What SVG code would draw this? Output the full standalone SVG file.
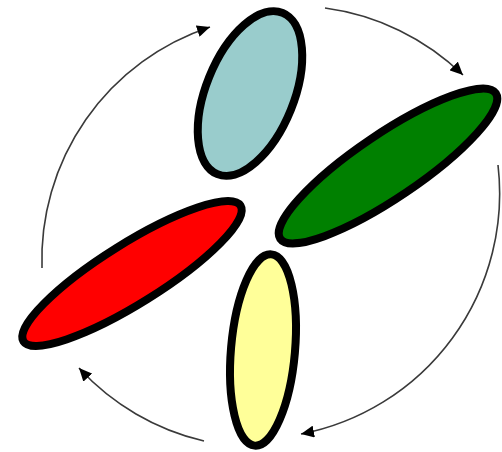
<svg xmlns="http://www.w3.org/2000/svg" width="502" height="452" viewBox="0 0 502 452">
  <style>
    .petal { stroke: #000; stroke-width: 8; }
    .conn { fill: none; stroke: #3a3a3a; stroke-width: 1.6; }
  </style>
  <defs>
    <marker id="ah" markerUnits="userSpaceOnUse" markerWidth="14" markerHeight="12" refX="13" refY="6" orient="auto">
      <path d="M0,0 L13,6 L0,12 z" fill="#000"/>
    </marker>
  </defs>
  <rect width="502" height="452" fill="#fff"/>
  <g id="connectors">
    <path class="conn" d="M 42 268 A 245 245 0 0 1 210 27" marker-end="url(#ah)"/>
    <path class="conn" d="M 325 8 A 245 245 0 0 1 463 75" marker-end="url(#ah)"/>
    <path class="conn" d="M 498 165 A 245 245 0 0 1 301 434" marker-end="url(#ah)"/>
    <path class="conn" d="M 204 441 A 245 245 0 0 1 79 368" marker-end="url(#ah)"/>
  </g>
  <g id="teal">
    <ellipse class="petal" cx="250" cy="93.5" rx="44" ry="87" fill="#99CCCC" transform="rotate(22 250 93.5)"/>
  </g>
  <g id="green">
    <ellipse class="petal" cx="388" cy="166" rx="130" ry="32" fill="#008000" transform="rotate(-34 388 166)"/>
  </g>
  <g id="red">
    <ellipse class="petal" cx="132" cy="273.5" rx="128" ry="30" fill="#FF0000" transform="rotate(-32 132 273.5)"/>
  </g>
  <g id="yellow">
    <ellipse class="petal" cx="263" cy="350" rx="32" ry="96" fill="#FFFF99" transform="rotate(5 263 350)"/>
  </g>
</svg>
